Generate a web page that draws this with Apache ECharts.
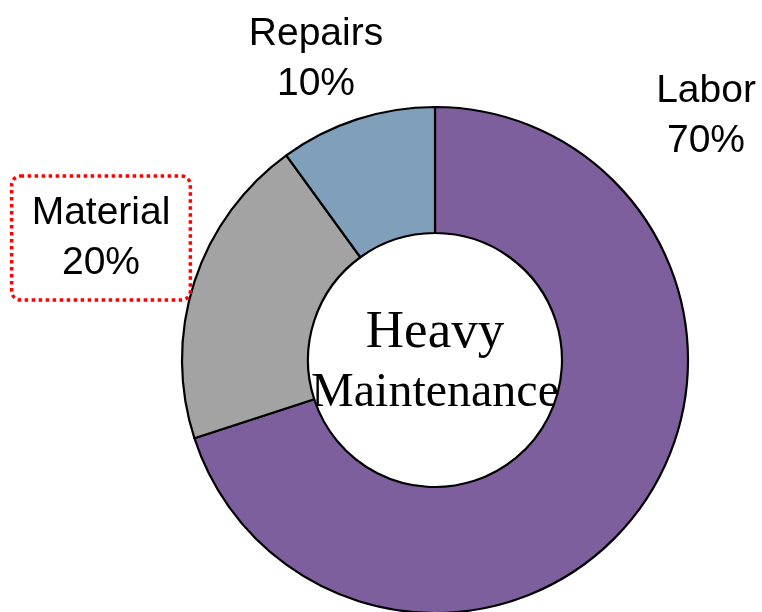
<!DOCTYPE html>
<html>
<head>
<meta charset="utf-8">
<script src="https://cdn.jsdelivr.net/npm/echarts@6/dist/echarts.min.js"></script>
<style>
  html, body { margin: 0; padding: 0; background: #fff; }
  #chart { width: 762px; height: 612px; }
</style>
</head>
<body>
<div id="chart"></div>
<script>
// slice data, clockwise from 12 o'clock
const categories = ['Labor', 'Material', 'Repairs'];
const shares = [70, 20, 10];
const sliceColors = ['#7E5F9D', '#A3A3A3', '#809FBA'];
const centerLines = ['Heavy', 'Maintenance'];

// where each label block sits (centre of the block)
const labelSpots = {
  Labor: [706, 116],
  Material: [101, 238],
  Repairs: [316, 59]
};

const chart = echarts.init(document.getElementById('chart'));

const option = {
  backgroundColor: '#fff',
  animation: false,
  series: [
    {
      type: 'pie',
      center: [435, 360],
      radius: [127, 253],
      startAngle: 90,
      clockwise: true,
      silent: true,
      itemStyle: { borderColor: '#000', borderWidth: 2.2 },
      label: {
        show: true,
        position: 'inside',
        overflow: 'none',
        formatter: '{b}\n{d}%',
        fontFamily: 'Liberation Sans, Arial, sans-serif',
        fontSize: 39,
        lineHeight: 50,
        color: '#000'
      },
      labelLine: { show: false },
      labelLayout: function (params) {
        const name = categories[params.dataIndex];
        const p = labelSpots[name];
        return { x: p[0], y: p[1], align: 'center', verticalAlign: 'middle' };
      },
      data: categories.map((name, i) => {
        const item = { name: name, value: shares[i], itemStyle: { color: sliceColors[i] } };
        // material label gets the red dotted frame
        if (name === 'Material') {
          item.label = {
            borderColor: '#FF0000',
            borderType: 'dotted',
            borderWidth: 3.5,
            borderRadius: 9,
            padding: [12, 20, 12, 20]
          };
        }
        return item;
      })
    }
  ],
  graphic: [
    {
      type: 'text',
      x: 435,
      y: 333,
      style: {
        text: centerLines[0],
        font: '53px "Liberation Serif", "Times New Roman", serif',
        fill: '#000',
        align: 'center',
        verticalAlign: 'middle'
      }
    },
    {
      type: 'text',
      x: 435,
      y: 393,
      style: {
        text: centerLines[1],
        font: '48px "Liberation Serif", "Times New Roman", serif',
        fill: '#000',
        align: 'center',
        verticalAlign: 'middle'
      }
    }
  ]
};

chart.setOption(option);
</script>
</body>
</html>
